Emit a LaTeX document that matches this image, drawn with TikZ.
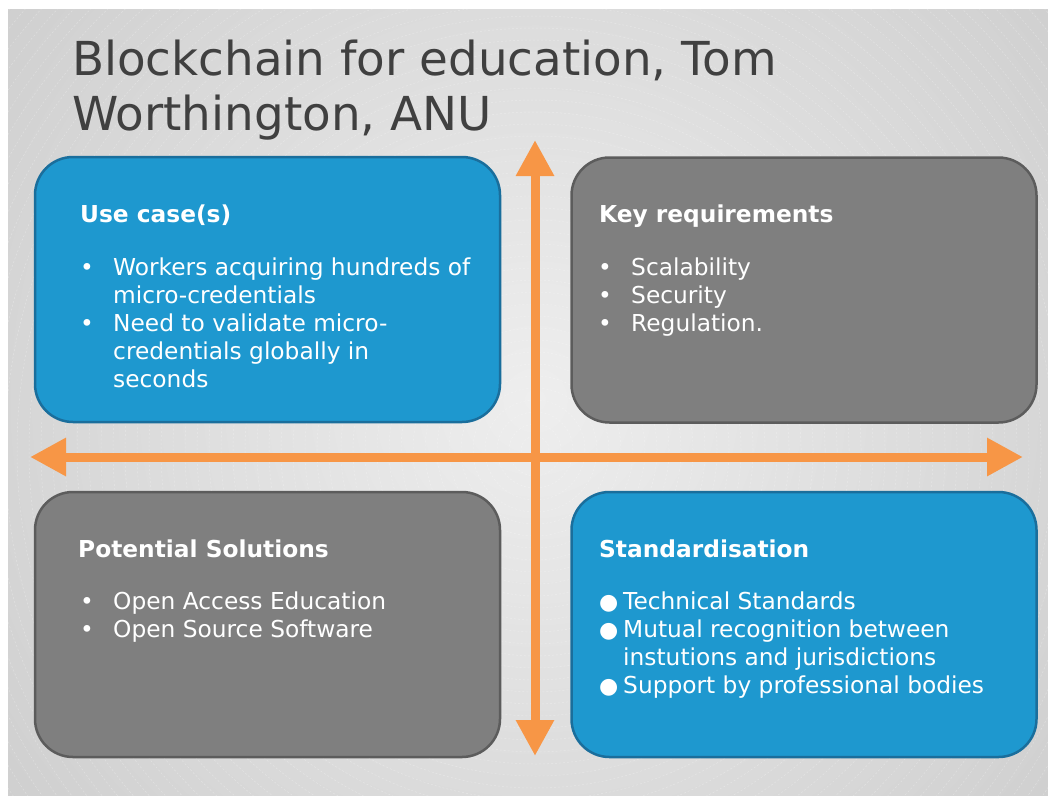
\documentclass[tikz,border=0pt]{standalone}
\usepackage{fontspec}
\setmainfont{DejaVu Sans}
\usetikzlibrary{arrows.meta}
\definecolor{boxBlue}{HTML}{1E98CF}
\definecolor{blueEdge}{HTML}{1A6E9C}
\definecolor{boxGrey}{HTML}{7F7F7F}
\definecolor{greyEdge}{HTML}{5C5C5C}
\definecolor{arrowOrange}{HTML}{F79646}
\definecolor{titleGrey}{HTML}{404040}
\definecolor{bgLight}{HTML}{EEEEEE}
\definecolor{bgDark}{HTML}{BDBDBD}

\begin{document}
\begin{tikzpicture}[%%
  x=1pt,y=-1pt,%%
  quadStyle/.style={rounded corners=38pt,line width=2.5pt,inner sep=0pt,%%
    minimum width=465pt,minimum height=265pt},%%
  blueBox/.style={quadStyle,draw=blueEdge,fill=boxBlue},%%
  greyBox/.style={quadStyle,draw=greyEdge,fill=boxGrey},%%
  titleStyle/.style={anchor=base west,inner sep=0pt,text=titleGrey,%%
    font=\fontsize{46.8}{55}\selectfont},%%
  headStyle/.style={anchor=base west,inner sep=0pt,text=white,%%
    font=\fontsize{23.3}{28}\selectfont\bfseries},%%
  itemStyle/.style={anchor=base west,inner sep=0pt,text=white,%%
    font=\fontsize{23.3}{28}\selectfont},%%
  dotStyle/.style={anchor=base west,inner sep=0pt,text=white,%%
    font=\fontsize{22}{28}\selectfont},%%
  arrowStyle/.style={{Triangle[width=36pt,length=36pt]}-{Triangle[width=36pt,length=36pt]},%%
    line width=9pt,draw=arrowOrange}%%
]
\useasboundingbox (0,0) rectangle (1048,795);
%%
%% Background: soft radial grey with faint dashed rings.
\begin{scope}
  \clip (8,9) rectangle (1048,795);
  \shade[inner color=bgLight,outer color=bgDark] (535,400) circle (1050pt);
  \foreach \r in {14,26,...,820}
    \draw[white,opacity=.3,line width=.5pt,dash pattern=on 2pt off 2pt]
      (535,450) circle (\r pt);
\end{scope}
%%
%% Title.
\node[titleStyle] (titleA) at (72,75) {Blockchain for education, Tom};
\node[titleStyle] (titleB) at (72,130) {Worthington, ANU};
%%
%% The four quadrants.
\node[blueBox] (useCase) at (267.5,289.5) {};
\node[greyBox] (keyReq) at (804,290) {};
\node[greyBox] (solutions) at (267.5,624.5) {};
\node[blueBox] (standards) at (804,624.5) {};
%%
%% Axes, drawn tip to tip.
\coordinate (topTip) at (535,140);
\coordinate (bottomTip) at (535,756);
\coordinate (leftTip) at (30,457);
\coordinate (rightTip) at (1023,457);
\draw[arrowStyle] (bottomTip) -- (topTip);
\draw[arrowStyle] (leftTip) -- (rightTip);
%%
%% Use case(s).
\node[headStyle] (useHead) at (80,222) {Use case(s)};
\foreach \y/\t [count=\i] in {275/Workers acquiring hundreds of,
    303/micro-credentials,331/Need to validate micro-,
    359/credentials globally in,387/seconds}
  \node[itemStyle] (useLine\i) at (113,\y) {\t};
\node[itemStyle] (useDotA) at (80,275) {•};
\node[itemStyle] (useDotB) at (80,331) {•};
%%
%% Key requirements.
\node[headStyle] (keyHead) at (599,222) {Key requirements};
\foreach \y/\t [count=\i] in {275/Scalability,303/Security,331/Regulation.}{
  \node[itemStyle] (keyLine\i) at (631,\y) {\t};
  \node[itemStyle] (keyDot\i) at (598,\y) {•};
}
%%
%% Potential Solutions.
\node[headStyle] (solHead) at (78,557) {Potential Solutions};
\foreach \y/\t [count=\i] in {609/Open Access Education,637/Open Source Software}{
  \node[itemStyle] (solLine\i) at (113,\y) {\t};
  \node[itemStyle] (solDot\i) at (80,\y) {•};
}
%%
%% Standardisation.
\node[headStyle] (stdHead) at (599,557) {Standardisation};
\foreach \y/\t [count=\i] in {609/Technical Standards,
    637/Mutual recognition between,665/instutions and jurisdictions,
    693/Support by professional bodies}
  \node[itemStyle] (stdLine\i) at (623,\y) {\t};
\foreach \y [count=\i] in {609,637,693}
  \node[dotStyle] (stdDot\i) at (599,\y) {●};
\end{tikzpicture}
\end{document}
